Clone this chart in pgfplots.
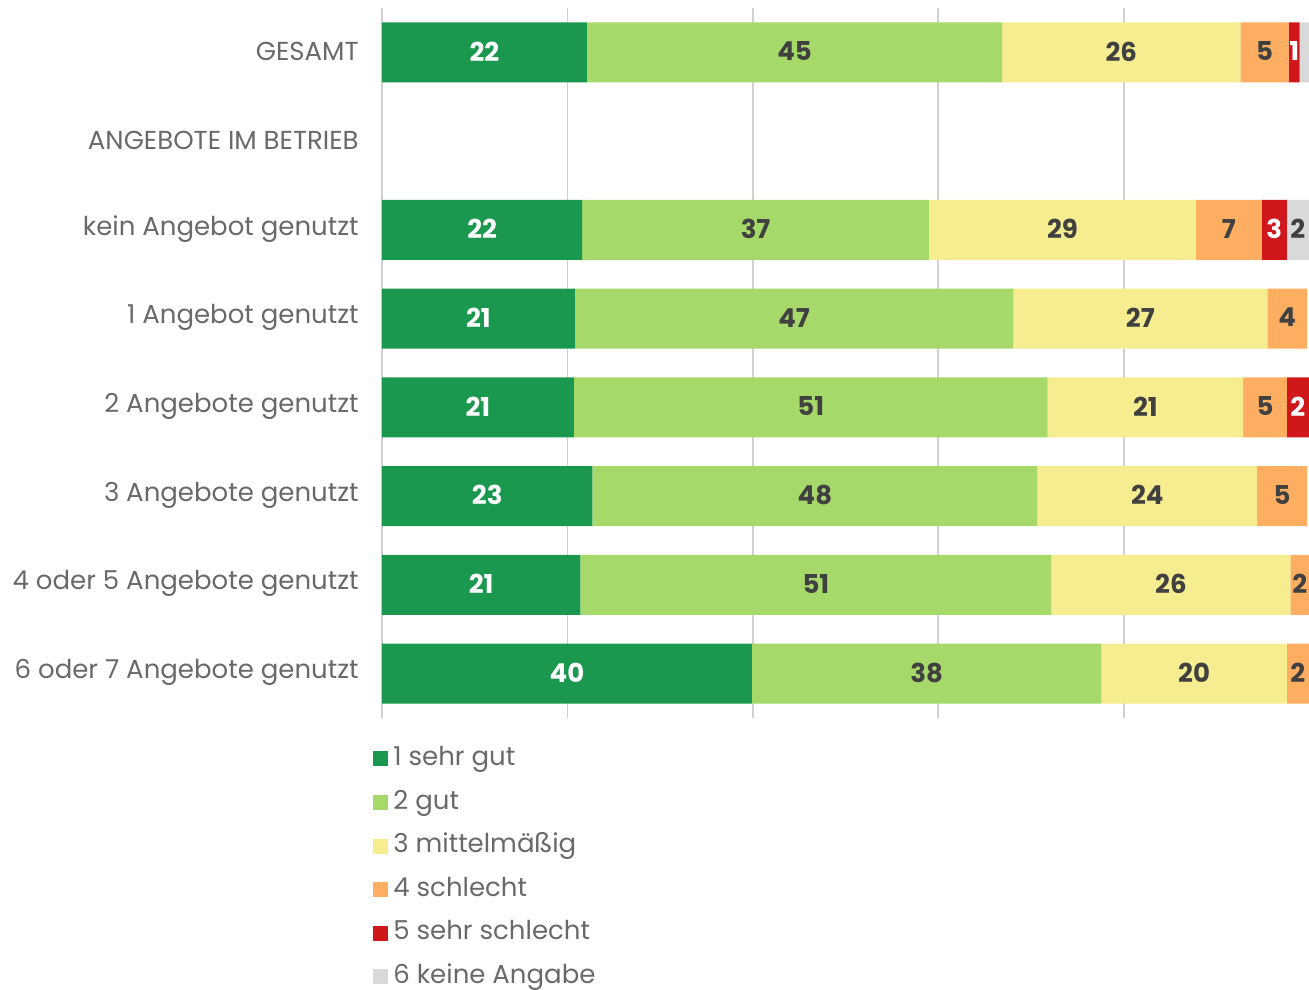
\documentclass[border=0pt]{standalone}
\usepackage{fontspec}
\setmainfont{Poppins}
\usepackage{pgfplots}
\pgfplotsset{compat=1.18}
\definecolor{c1}{RGB}{27,152,80}
\definecolor{c2}{RGB}{166,217,106}
\definecolor{c3}{RGB}{245,237,143}
\definecolor{c4}{RGB}{253,174,97}
\definecolor{c5}{RGB}{208,24,28}
\definecolor{c6}{RGB}{217,217,217}
\definecolor{labelgray}{RGB}{105,105,105}
\definecolor{numgray}{RGB}{64,64,64}
\begin{document}
\begin{tikzpicture}
\begin{axis}[
  at={(0,0)}, anchor=south west,
  scale only axis, width=463.5pt, height=355pt,
  xbar stacked, bar width=30pt,
  xmin=0, xmax=100, ymin=-0.5, ymax=7.5, y dir=reverse,
  axis line style={draw=none},
  major tick length=0pt,
  xtick={0,20,40,60,80}, xticklabels={},
  xmajorgrids, grid style={black!18, line width=0.9pt},
  ytick={0,...,7},
  yticklabels={GESAMT, ANGEBOTE IM BETRIEB, kein Angebot genutzt, 1 Angebot genutzt, 2 Angebote genutzt, 3 Angebote genutzt, 4 oder 5 Angebote genutzt, 6 oder 7 Angebote genutzt},
  yticklabel style={font=\fontsize{13}{15}\selectfont, text=labelgray, inner sep=0pt, xshift=-11.5pt, yshift=0.5pt},
  point meta=explicit,
  visualization depends on=rawx \as \rawx,
  nodes near coords={\ifdim\rawx pt>0.5pt \pgfmathprintnumber[fixed,precision=0,assume math mode=true]{\pgfplotspointmeta}\fi},
  every node near coord/.append style={anchor=center, yshift=0.5pt, font=\bfseries\fontsize{13}{15}\selectfont, text=numgray},
  legend cell align=left,
  legend style={at={(axis description cs:0,0)}, anchor=north west, xshift=-4.5pt, yshift=-14.5pt,
    draw=none, fill=none, inner sep=0pt, row sep=10.3pt,
    font=\fontsize{13}{15}\selectfont, text=labelgray,
    nodes={inner sep=0pt, text height=9pt, text depth=2.5pt},
    /tikz/every odd column/.style={column sep=2.5pt}},
  legend image code/.code={\fill[#1] (0pt,-3.75pt) rectangle (7.5pt,3.75pt);},
]
\addplot[fill=c1, draw=none, every node near coord/.append style={text=white}] coordinates {
(22.1,0) [22] (21.6,2) [22] (20.8,3) [21] (20.7,4) [21] (22.7,5) [23] (21.4,6) [21] (39.9,7) [40]};
\addlegendentry{1 sehr gut}
\addplot[fill=c2, draw=none] coordinates {
(44.8,0) [45] (37.4,2) [37] (47.3,3) [47] (51.1,4) [51] (48.0,5) [48] (50.8,6) [51] (37.7,7) [38]};
\addlegendentry{2 gut}
\addplot[fill=c3, draw=none] coordinates {
(25.7,0) [26] (28.8,2) [29] (27.4,3) [27] (21.1,4) [21] (23.7,5) [24] (25.8,6) [26] (20.0,7) [20]};
\addlegendentry{3 mittelmäßig}
\addplot[fill=c4, draw=none] coordinates {
(5.2,0) [5] (7.1,2) [7] (4.3,3) [4] (4.7,4) [5] (5.4,5) [5] (2.0,6) [2] (2.4,7) [2]};
\addlegendentry{4 schlecht}
\addplot[fill=c5, draw=none, every node near coord/.append style={text=white}] coordinates {
(1.2,0) [1] (2.7,2) [3] (0,3) [0] (2.4,4) [2] (0,5) [0] (0,6) [0] (0,7) [0]};
\addlegendentry{5 sehr schlecht}
\addplot[fill=c6, draw=none] coordinates {
(1.2,0) [1] (2.4,2) [2] (0,3) [0] (0,4) [0] (0,5) [0] (0,6) [0] (0,7) [0]};
\addlegendentry{6 keine Angabe}
\end{axis}
\pgfresetboundingbox
\useasboundingbox (-191pt,-135.5pt) rectangle (463.5pt,359pt);
\end{tikzpicture}
\end{document}
